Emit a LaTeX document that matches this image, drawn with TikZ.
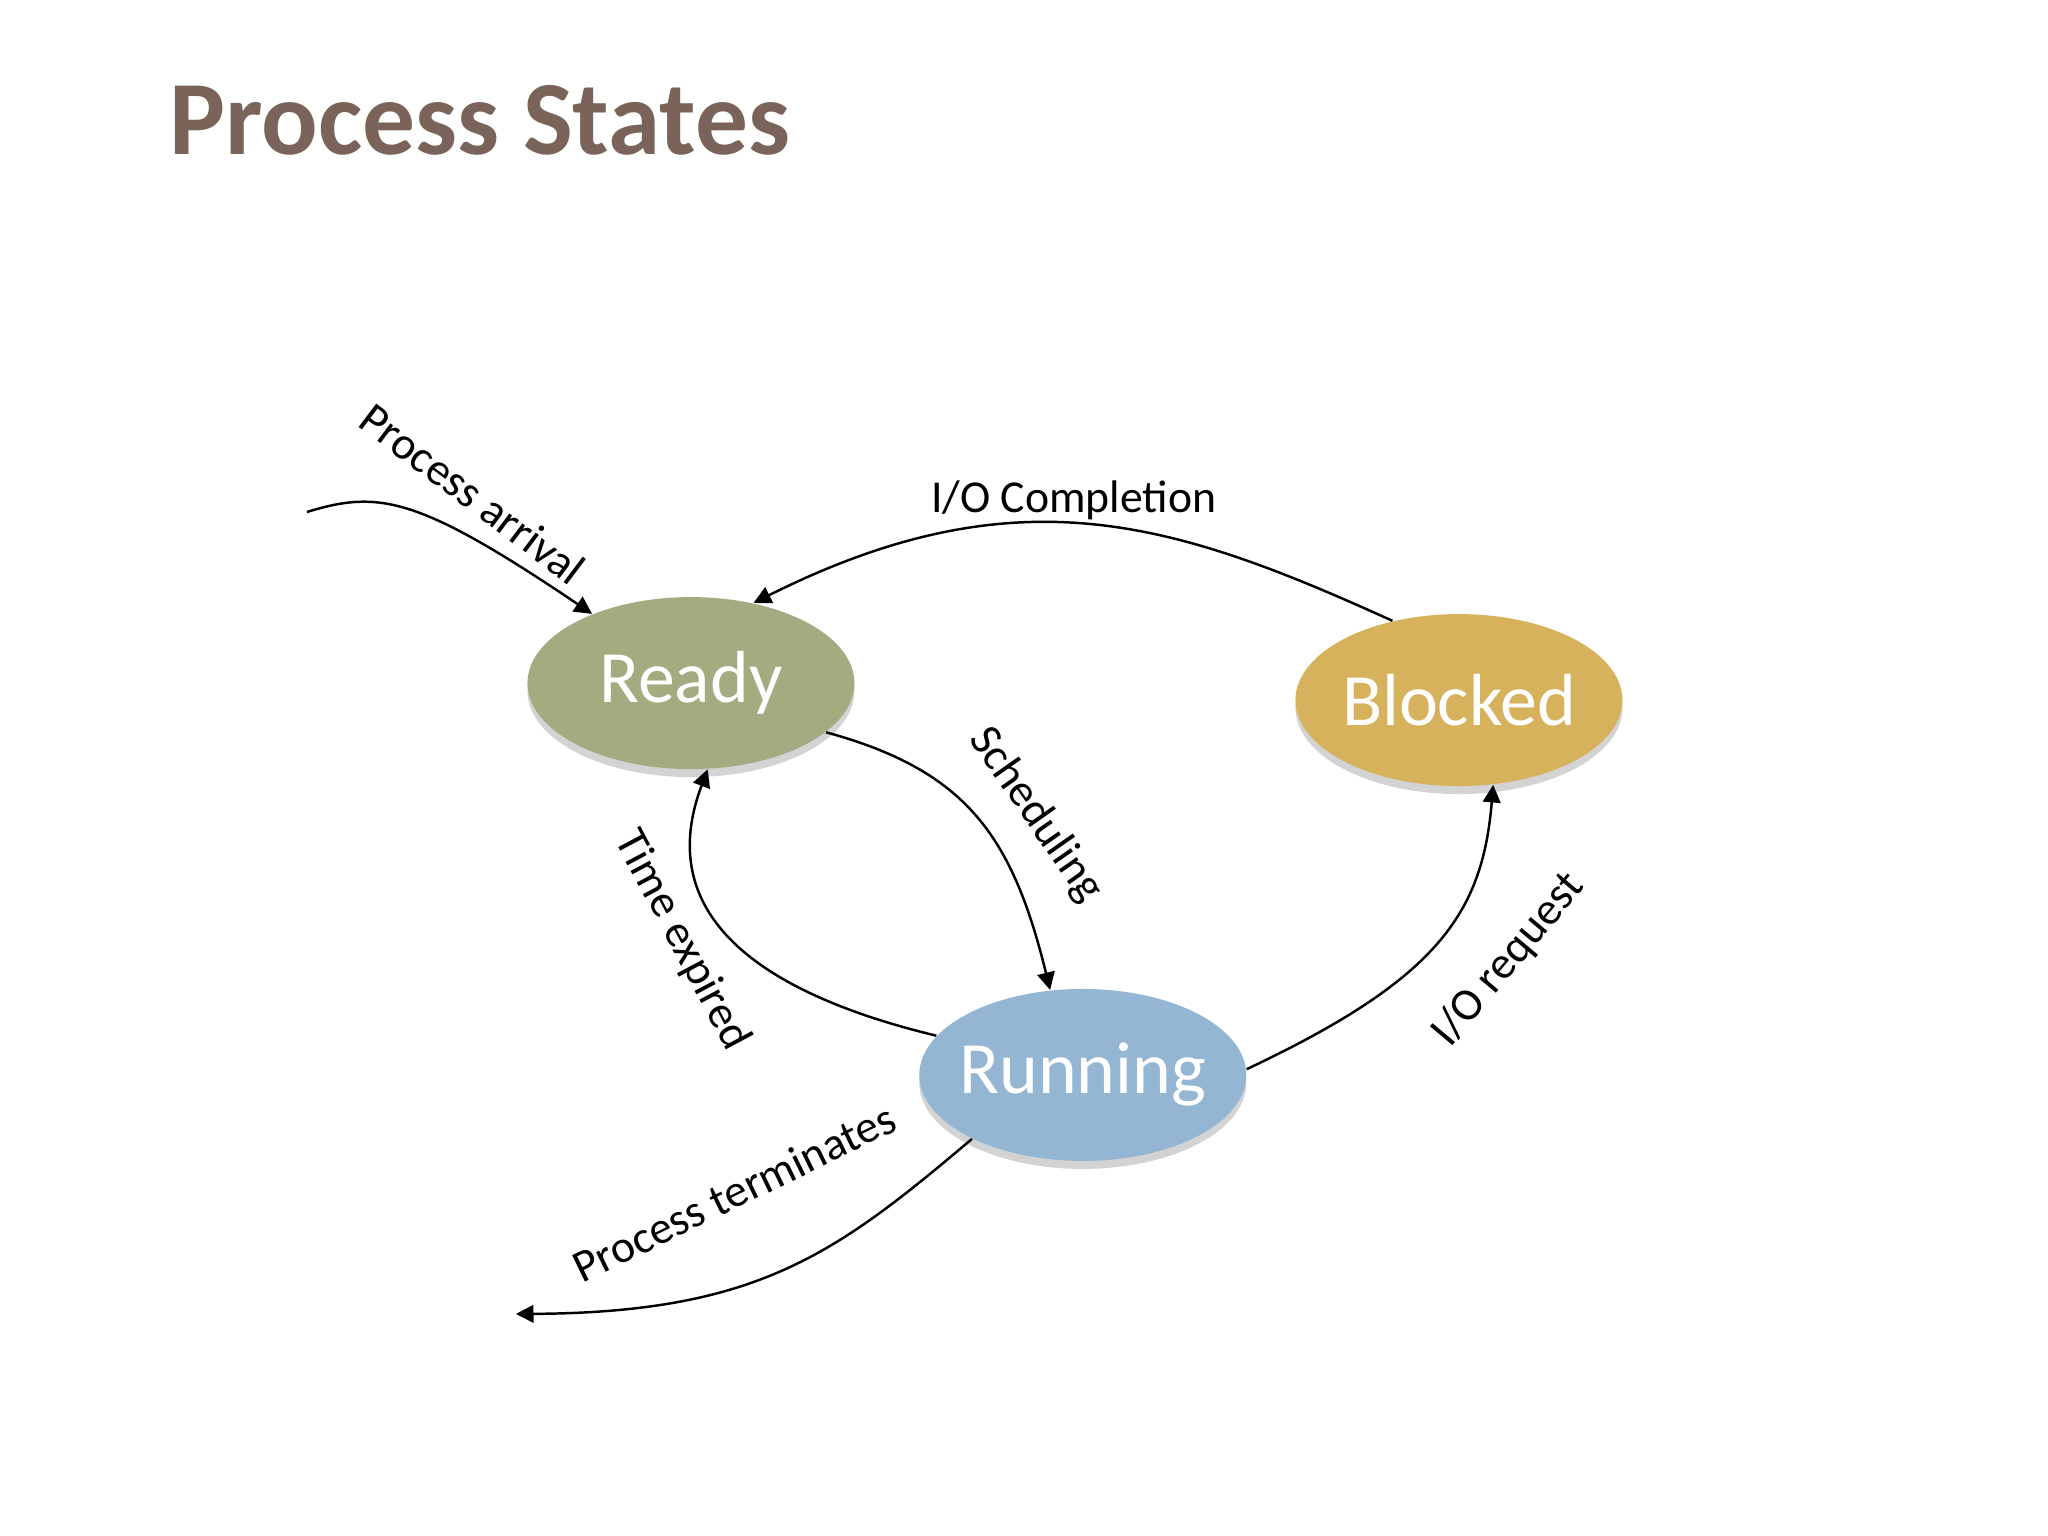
\documentclass[tikz,border=0pt]{standalone}
\usepackage{fontspec}
\setmainfont{Carlito}
\usetikzlibrary{shapes.geometric,arrows.meta,shadows}
\definecolor{titlec}{HTML}{7A6358}
\definecolor{readyc}{HTML}{A3AB80}
\definecolor{blockc}{HTML}{D6B25C}
\definecolor{runc}{HTML}{94B6D2}
\begin{document}
\begin{tikzpicture}[x=0.01306cm,y=-0.01306cm,
  state/.style={ellipse,draw=none,minimum width=3.27cm,minimum height=1.72cm,inner sep=0pt,
     drop shadow={shadow xshift=0pt,shadow yshift=-0.08cm,opacity=0.35}},
  stxt/.style={text=white,font=\fontsize{21}{25}\selectfont,inner sep=0pt},
  edge/.style={-{Triangle[length=5pt,width=5pt]},line width=0.7pt},
  lbl/.style={font=\fontsize{13}{15}\selectfont,inner sep=0pt}]
\useasboundingbox (0,0) rectangle (1568,1176);
\node[font=\bfseries\fontsize{30}{34}\selectfont,text=titlec,anchor=base west] (title) at (120,118) {Process States};
\node[state,fill=readyc] (ready) at (529,523) {};
\node[stxt] (readyt) at (ready) {Ready};
\node[state,fill=blockc] (blocked) at (1117,536) {};
\node[stxt] (blockedt) at (blocked) {Blocked};
\node[state,fill=runc] (running) at (829,823) {};
\node[stxt] (runningt) at (running) {Running};
\coordinate (arr) at (235,392);
\coordinate (term) at (395,1006);
\draw[edge] (arr) .. controls (290,375) and (320,380) .. (ready.145);
\draw[edge] (blocked.130) .. controls (900,400) and (780,360) .. (ready.52);
\draw[edge] (ready.-20) .. controls (740,590) and (775,640) .. (running.111);
\draw[edge] (running.165) .. controls (580,760) and (500,700) .. (ready.-79);
\draw[edge] (running.2) .. controls (1100,750) and (1135,700) .. (blocked.-68);
\draw[edge] (running.-150) .. controls (640,960) and (580,1005) .. (term);
\node[lbl,rotate=-37] (l1) at (362,378) {Process arrival};
\node[lbl] (l2) at (822,383) {I/O Completion};
\node[lbl,rotate=-55] (l3) at (793,624) {Scheduling};
\node[lbl,rotate=-62] (l4) at (522,720) {Time expired};
\node[lbl,rotate=50] (l5) at (1155,735) {I/O request};
\node[lbl,rotate=26] (l6) at (562,913) {Process terminates};
\end{tikzpicture}
\end{document}
